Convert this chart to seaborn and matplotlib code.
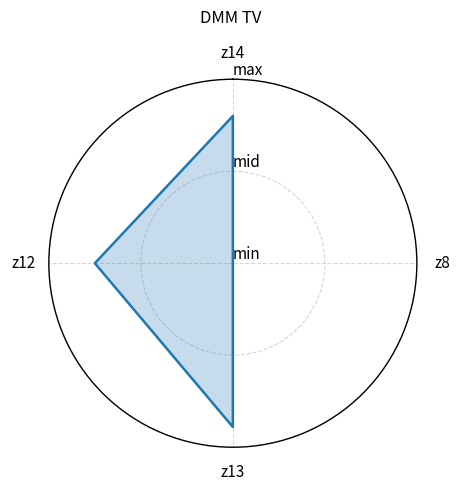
import numpy as np
import pandas as pd
import matplotlib
matplotlib.use("Agg")
import matplotlib.pyplot as plt
import seaborn as sns

sns.set_style("white")
plt.rcParams['font.family'] = ['Noto Sans CJK JP', 'DejaVu Sans']
plt.rcParams['text.color'] = 'black'
plt.rcParams['xtick.color'] = 'black'
plt.rcParams['ytick.color'] = 'black'

title = "DMM TV"
categories = ["z14", "z8", "z13", "z12"]
values = [0.80, 0.0, 0.89, 0.75]
r_ticks = [0, 0.5, 1.0]
r_labels = ["min", "mid", "max"]

angles = np.linspace(0, 2 * np.pi, len(categories), endpoint=False)
# close the polygon; keep each row as its own point
df = pd.DataFrame({"theta": np.append(angles, 2 * np.pi),
                   "r": values + values[:1]})

fig = plt.figure(figsize=(4.62, 4.92), dpi=100)
ax = fig.add_subplot(111, projection="polar")
ax.set_theta_zero_location("N")
ax.set_theta_direction(-1)

sns.lineplot(data=df, x="theta", y="r", sort=False, estimator=None, ax=ax,
             color="#1f77b4", linewidth=1.8)
ax.fill(df["theta"], df["r"], color="#1f77b4", alpha=0.25)

ax.set_ylim(0, 1)
ax.set_xticks(angles)
ax.set_xticklabels(categories, fontsize=11)
ax.set_yticks(r_ticks)
ax.set_yticklabels(r_labels, fontsize=11)
ax.set_rlabel_position(0)
ax.set_xlabel("")
ax.set_ylabel("")
ax.grid(True, color="#cccccc", linestyle="--", linewidth=0.8, alpha=0.8)
ax.tick_params(axis="x", pad=8)
ax.spines["polar"].set_color("black")
ax.spines["polar"].set_linewidth(1.0)

fig.suptitle(title, fontsize=12, y=0.962, va="center")
fig.subplots_adjust(left=0.104, right=0.904, top=0.839, bottom=0.091)
fig.savefig("out.png", dpi=100)
